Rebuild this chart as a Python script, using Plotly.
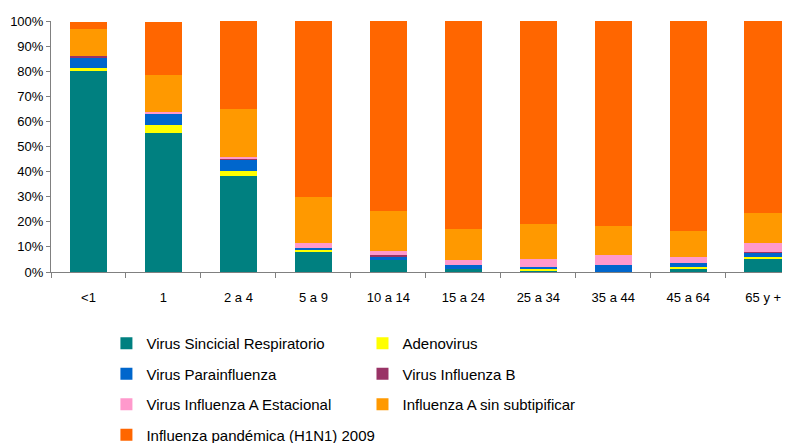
import plotly.graph_objects as go

categories = ["<1", "1", "2 a 4", "5 a 9", "10 a 14", "15 a 24", "25 a 34", "35 a 44", "45 a 64", "65 y +"]

vsr = [80.1, 55.5, 38.4, 8.3, 4.6, 1.1, 0.7, 0.2, 1.1, 5.4]
adenovirus = [1.2, 3.2, 2.0, 0.4, 0.0, 0.0, 0.4, 0.0, 0.8, 0.6]
parainfluenza = [4.1, 4.4, 4.4, 0.8, 1.4, 1.7, 0.9, 2.5, 1.6, 1.7]
influenza_b = [0.7, 0.2, 0.6, 0.0, 0.6, 0.0, 0.0, 0.0, 0.0, 0.3]
influenza_a_est = [0.0, 0.6, 0.6, 2.0, 1.6, 1.8, 3.0, 3.9, 2.3, 3.4]
influenza_a_sin = [10.7, 14.6, 19.0, 18.2, 16.3, 12.4, 14.0, 11.6, 10.4, 12.3]
pandemica = [2.8, 21.1, 35.0, 70.3, 75.5, 83.0, 81.0, 81.8, 83.8, 76.3]

series = [
    ("Virus Sincicial Respiratorio", vsr, "#008080", "legend"),
    ("Adenovirus", adenovirus, "#FFFF00", "legend2"),
    ("Virus Parainfluenza", parainfluenza, "#0066CC", "legend"),
    ("Virus Influenza B", influenza_b, "#993366", "legend2"),
    ("Virus Influenza A Estacional", influenza_a_est, "#FF99CC", "legend"),
    ("Influenza A sin subtipificar", influenza_a_sin, "#FF9900", "legend2"),
    ("Influenza pandémica (H1N1) 2009", pandemica, "#FF6600", "legend"),
]

fig = go.Figure()
for i, (name, vals, color, leg) in enumerate(series):
    fig.add_trace(go.Bar(
        x=categories, y=vals, name=name,
        marker=dict(color=color, line=dict(width=0)),
        width=0.5, legend=leg, legendgroup=f"g{i}",
    ))

font_family = "Liberation Sans, Arial, sans-serif"
legend_common = dict(
    orientation="v", xref="paper", yref="paper", yanchor="top", xanchor="left",
    font=dict(family=font_family, size=15, color="#000000"),
    tracegroupgap=8, bgcolor="rgba(0,0,0,0)", itemclick=False,
)

# page body has an 8px default margin, so the figure is sized to end at the window edge
fig.update_layout(
    width=782, height=435,
    margin=dict(l=43, r=0, t=13, b=171, autoexpand=False),
    barmode="stack",
    bargap=0.5,
    plot_bgcolor="white", paper_bgcolor="white",
    font=dict(family=font_family, size=13, color="#000000"),
    showlegend=True,
    legend=dict(x=0.075, y=-0.219, **legend_common),
    legend2=dict(x=0.4215, y=-0.219, **legend_common),
    xaxis=dict(
        range=[-0.5, 9.357], showgrid=False, zeroline=False,
        showline=True, linecolor="#808080", linewidth=1,
        ticks="outside", tickson="boundaries", ticklen=5, tickcolor="#808080",
        tickfont=dict(size=13), ticklabelstandoff=13, fixedrange=True,
    ),
    yaxis=dict(
        range=[0, 100], dtick=10, ticksuffix="%", showgrid=False, zeroline=False,
        showline=True, linecolor="#808080", linewidth=1,
        ticks="outside", ticklen=4, tickcolor="#808080",
        tickfont=dict(size=13), fixedrange=True,
    ),
)

fig.write_html("out.html")
